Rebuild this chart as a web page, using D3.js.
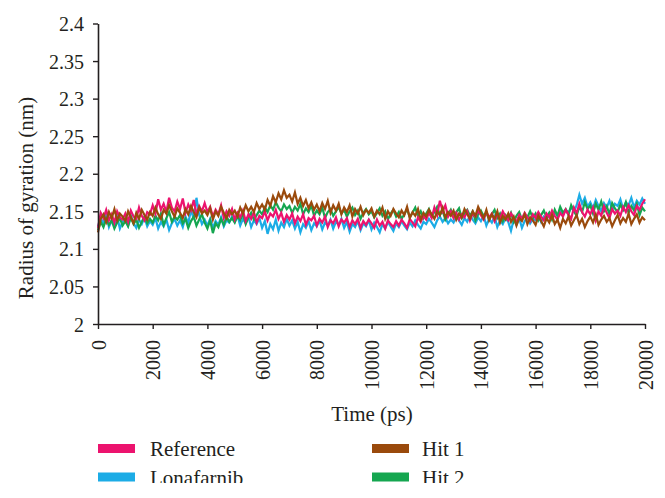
<!DOCTYPE html>
<html>
<head>
<meta charset="utf-8">
<script src="https://cdn.jsdelivr.net/npm/d3@7"></script>
<style>
  html, body { margin: 0; padding: 0; background: #fff; }
  svg { display: block; }
  svg text { font-family: "Liberation Serif", "DejaVu Serif", serif !important; fill: #231f20; }
</style>
</head>
<body>
<svg id="chart" width="665" height="498"></svg>
<script>
// ---- data ----
const seriesNames = ["Reference", "Lonafarnib", "Hit 1", "Hit 2"];
const seriesColors = ["#ec136e", "#1cace6", "#9a4a0c", "#15a650"];
const timeStart = 0, timeStep = 100; // ps
const xTicks = [0, 2000, 4000, 6000, 8000, 10000, 12000, 14000, 16000, 18000, 20000];
const yTicks = [2, 2.05, 2.1, 2.15, 2.2, 2.25, 2.3, 2.35, 2.4];

const reference = [
 2.128,2.148,2.141,2.152,2.138,2.146,2.135,2.150,2.142,2.139,
 2.147,2.136,2.151,2.143,2.140,2.155,2.144,2.138,2.149,2.146,
 2.158,2.147,2.166,2.152,2.160,2.149,2.168,2.155,2.150,2.163,
 2.153,2.167,2.148,2.159,2.151,2.165,2.146,2.157,2.150,2.161,
 2.149,2.156,2.143,2.152,2.146,2.158,2.141,2.150,2.144,2.153,
 2.139,2.148,2.142,2.151,2.137,2.146,2.140,2.149,2.135,2.144,
 2.141,2.150,2.138,2.147,2.143,2.152,2.140,2.148,2.136,2.145,
 2.139,2.147,2.134,2.143,2.137,2.146,2.132,2.141,2.138,2.144,
 2.131,2.140,2.135,2.143,2.129,2.138,2.134,2.142,2.130,2.139,
 2.135,2.141,2.129,2.138,2.133,2.140,2.128,2.137,2.132,2.139,
 2.134,2.128,2.139,2.131,2.136,2.127,2.138,2.133,2.129,2.137,
 2.131,2.139,2.134,2.128,2.140,2.135,2.130,2.142,2.136,2.144,
 2.139,2.148,2.141,2.155,2.145,2.164,2.150,2.158,2.143,2.150,
 2.141,2.148,2.139,2.146,2.142,2.150,2.138,2.147,2.143,2.151,
 2.145,2.139,2.149,2.142,2.147,2.137,2.146,2.141,2.150,2.143,
 2.138,2.147,2.141,2.136,2.145,2.140,2.148,2.142,2.137,2.146,
 2.141,2.149,2.143,2.138,2.147,2.142,2.151,2.144,2.139,2.148,
 2.143,2.152,2.146,2.140,2.155,2.147,2.160,2.149,2.143,2.152,
 2.146,2.155,2.138,2.150,2.144,2.157,2.148,2.141,2.153,2.147,
 2.151,2.144,2.156,2.149,2.158,2.150,2.145,2.157,2.152,2.160,
 2.166
];
const lonafarnib = [
 2.130,2.141,2.134,2.146,2.129,2.138,2.132,2.143,2.127,2.136,
 2.140,2.131,2.145,2.134,2.128,2.139,2.133,2.142,2.130,2.137,
 2.132,2.141,2.127,2.136,2.130,2.139,2.125,2.134,2.140,2.131,
 2.138,2.129,2.143,2.134,2.152,2.140,2.168,2.145,2.133,2.139,
 2.131,2.140,2.128,2.137,2.132,2.142,2.130,2.138,2.135,2.143,
 2.136,2.144,2.131,2.140,2.134,2.143,2.129,2.138,2.133,2.141,
 2.128,2.137,2.120,2.133,2.126,2.139,2.124,2.135,2.129,2.140,
 2.131,2.138,2.127,2.136,2.122,2.133,2.128,2.137,2.125,2.134,
 2.130,2.138,2.126,2.135,2.131,2.139,2.127,2.136,2.132,2.140,
 2.128,2.136,2.123,2.133,2.129,2.137,2.125,2.134,2.130,2.138,
 2.126,2.135,2.129,2.122,2.133,2.127,2.136,2.130,2.124,2.134,
 2.129,2.137,2.131,2.126,2.135,2.130,2.138,2.132,2.127,2.136,
 2.133,2.140,2.135,2.129,2.138,2.143,2.136,2.141,2.134,2.139,
 2.135,2.143,2.138,2.132,2.141,2.136,2.145,2.139,2.134,2.142,
 2.137,2.144,2.131,2.140,2.135,2.143,2.129,2.138,2.133,2.141,
 2.136,2.124,2.139,2.132,2.141,2.128,2.137,2.142,2.134,2.140,
 2.138,2.145,2.136,2.143,2.139,2.147,2.141,2.149,2.144,2.150,
 2.146,2.152,2.148,2.155,2.150,2.158,2.172,2.160,2.168,2.156,
 2.162,2.154,2.165,2.157,2.150,2.161,2.155,2.164,2.152,2.160,
 2.157,2.166,2.153,2.162,2.158,2.168,2.155,2.164,2.159,2.167,
 2.160
];
const hit1 = [
 2.122,2.140,2.146,2.136,2.149,2.141,2.153,2.138,2.147,2.143,
 2.137,2.150,2.142,2.134,2.148,2.140,2.152,2.145,2.139,2.149,
 2.144,2.155,2.146,2.140,2.152,2.147,2.158,2.150,2.143,2.154,
 2.148,2.141,2.153,2.146,2.157,2.149,2.142,2.155,2.147,2.151,
 2.145,2.154,2.139,2.150,2.144,2.156,2.148,2.141,2.152,2.146,
 2.151,2.143,2.155,2.147,2.158,2.150,2.156,2.149,2.161,2.153,
 2.159,2.152,2.165,2.157,2.170,2.162,2.174,2.166,2.178,2.168,
 2.172,2.163,2.175,2.160,2.168,2.157,2.165,2.154,2.162,2.152,
 2.159,2.150,2.161,2.153,2.164,2.148,2.158,2.151,2.160,2.146,
 2.155,2.149,2.158,2.143,2.153,2.147,2.156,2.145,2.152,2.148,
 2.154,2.143,2.151,2.146,2.155,2.140,2.150,2.144,2.153,2.147,
 2.142,2.151,2.145,2.156,2.141,2.149,2.144,2.153,2.139,2.148,
 2.143,2.152,2.146,2.140,2.150,2.145,2.155,2.142,2.149,2.144,
 2.151,2.139,2.147,2.142,2.153,2.146,2.140,2.150,2.144,2.156,
 2.148,2.141,2.152,2.138,2.146,2.140,2.150,2.135,2.144,2.139,
 2.147,2.136,2.143,2.131,2.141,2.137,2.146,2.133,2.142,2.138,
 2.132,2.144,2.137,2.130,2.141,2.135,2.145,2.133,2.139,2.128,
 2.140,2.134,2.143,2.131,2.138,2.145,2.133,2.140,2.129,2.137,
 2.143,2.135,2.146,2.132,2.139,2.144,2.136,2.141,2.130,2.138,
 2.145,2.134,2.141,2.136,2.147,2.133,2.140,2.146,2.135,2.142,
 2.138
];
const hit2 = [
 2.125,2.136,2.129,2.140,2.132,2.138,2.127,2.135,2.141,2.131,
 2.137,2.130,2.142,2.133,2.139,2.128,2.136,2.143,2.134,2.140,
 2.135,2.144,2.138,2.147,2.132,2.141,2.149,2.136,2.143,2.139,
 2.145,2.134,2.140,2.128,2.137,2.143,2.131,2.139,2.146,2.135,
 2.127,2.138,2.121,2.134,2.129,2.140,2.132,2.143,2.136,2.141,
 2.135,2.144,2.138,2.147,2.133,2.142,2.148,2.139,2.145,2.151,
 2.146,2.155,2.149,2.158,2.152,2.162,2.155,2.150,2.159,2.153,
 2.157,2.148,2.156,2.151,2.160,2.146,2.154,2.149,2.158,2.144,
 2.151,2.146,2.155,2.141,2.149,2.153,2.144,2.150,2.156,2.147,
 2.152,2.143,2.150,2.155,2.145,2.151,2.140,2.148,2.153,2.146,
 2.150,2.142,2.148,2.154,2.144,2.150,2.139,2.147,2.152,2.143,
 2.149,2.140,2.146,2.153,2.142,2.148,2.155,2.144,2.150,2.141,
 2.147,2.153,2.143,2.149,2.156,2.145,2.151,2.139,2.146,2.152,
 2.143,2.149,2.154,2.141,2.147,2.152,2.144,2.150,2.138,2.146,
 2.151,2.143,2.148,2.139,2.146,2.152,2.141,2.147,2.137,2.145,
 2.140,2.148,2.136,2.144,2.149,2.139,2.146,2.142,2.150,2.141,
 2.147,2.138,2.145,2.151,2.142,2.148,2.139,2.152,2.144,2.156,
 2.148,2.153,2.145,2.158,2.150,2.144,2.156,2.149,2.162,2.153,
 2.158,2.147,2.160,2.152,2.163,2.150,2.157,2.146,2.161,2.154,
 2.149,2.159,2.152,2.162,2.148,2.157,2.151,2.160,2.145,2.155,
 2.150
];
const seriesValues = [reference, lonafarnib, hit1, hit2];
const drawOrder = [1, 3, 0, 2]; // Lonafarnib, Hit 2, Reference, Hit 1 on top

// ---- layout ----
const FONT = '"Liberation Serif", "DejaVu Serif", serif';
const svg = d3.select("#chart");
const plot = { left: 98, right: 645, top: 23.5, bottom: 324 };

const x = d3.scaleLinear().domain([0, 20000]).range([plot.left, plot.right]);
const y = d3.scaleLinear().domain([2, 2.4]).range([plot.bottom, plot.top]);

// lines
const line = d3.line()
  .x((d, i) => x(timeStart + i * timeStep))
  .y(d => y(d));

const linesG = svg.append("g");
drawOrder.forEach(k => {
  linesG.append("path")
    .datum(seriesValues[k])
    .attr("fill", "none")
    .attr("stroke", seriesColors[k])
    .attr("stroke-width", 2.2)
    .attr("stroke-linejoin", "miter")
    .attr("d", line);
});

// axes
const yAxis = d3.axisLeft(y).tickValues(yTicks).tickSize(5).tickSizeOuter(0)
  .tickFormat(d => String(+d.toFixed(2)));
const yG = svg.append("g").attr("transform", `translate(${plot.left},0)`).call(yAxis)
  .attr("font-family", FONT).attr("font-size", 20);
yG.select(".domain").attr("stroke", "#231f20").attr("stroke-width", 1.6);
yG.selectAll(".tick line").attr("stroke", "#231f20").attr("stroke-width", 1.4);
yG.selectAll(".tick text")
  .attr("x", -14)
  .attr("dy", "0.35em")
  .style("font-family", FONT)
  .style("font-size", "20px")
  .attr("fill", "#231f20");

const xAxis = d3.axisBottom(x).tickValues(xTicks).tickSize(5).tickSizeOuter(0).tickFormat(d3.format("d"));
const xG = svg.append("g").attr("transform", `translate(0,${plot.bottom})`).call(xAxis)
  .attr("font-family", FONT).attr("font-size", 20);
xG.select(".domain").attr("stroke", "#231f20").attr("stroke-width", 1.6);
xG.selectAll(".tick line").attr("stroke", "#231f20").attr("stroke-width", 1.4);
xG.selectAll(".tick text")
  .attr("transform", "translate(0,16) rotate(-90)")
  .attr("x", 0).attr("y", 0)
  .attr("dy", "0.35em")
  .attr("text-anchor", "end")
  .style("font-family", FONT)
  .style("font-size", "20px")
  .attr("fill", "#231f20");

// axis titles
svg.append("text")
  .attr("transform", "translate(33,198) rotate(-90)")
  .attr("text-anchor", "middle")
  .style("font-family", FONT)
  .style("font-size", "21px")
  .text("Radius of gyration (nm)");

svg.append("text")
  .attr("x", 372).attr("y", 421)
  .attr("text-anchor", "middle")
  .style("font-family", FONT)
  .style("font-size", "21px")
  .text("Time (ps)");

// legend
svg.append("defs").append("clipPath").attr("id", "legclip")
  .append("rect").attr("x", 0).attr("y", 430).attr("width", 665).attr("height", 53);
const legendPos = [
  { sx: 98, tx: 150, cy: 448.5 },
  { sx: 98, tx: 150, cy: 477 },
  { sx: 372, tx: 422, cy: 448.5 },
  { sx: 372, tx: 422, cy: 477 }
];
const legG = svg.append("g").attr("clip-path", "url(#legclip)");
seriesNames.forEach((name, k) => {
  const p = legendPos[k];
  legG.append("rect")
    .attr("x", p.sx).attr("y", p.cy - 4.5)
    .attr("width", 37).attr("height", 9)
    .attr("fill", seriesColors[k]);
  legG.append("text")
    .attr("x", p.tx).attr("y", p.cy + 7.5)
    .style("font-family", FONT)
    .style("font-size", "21px")
    .text(name);
});
</script>
</body>
</html>
